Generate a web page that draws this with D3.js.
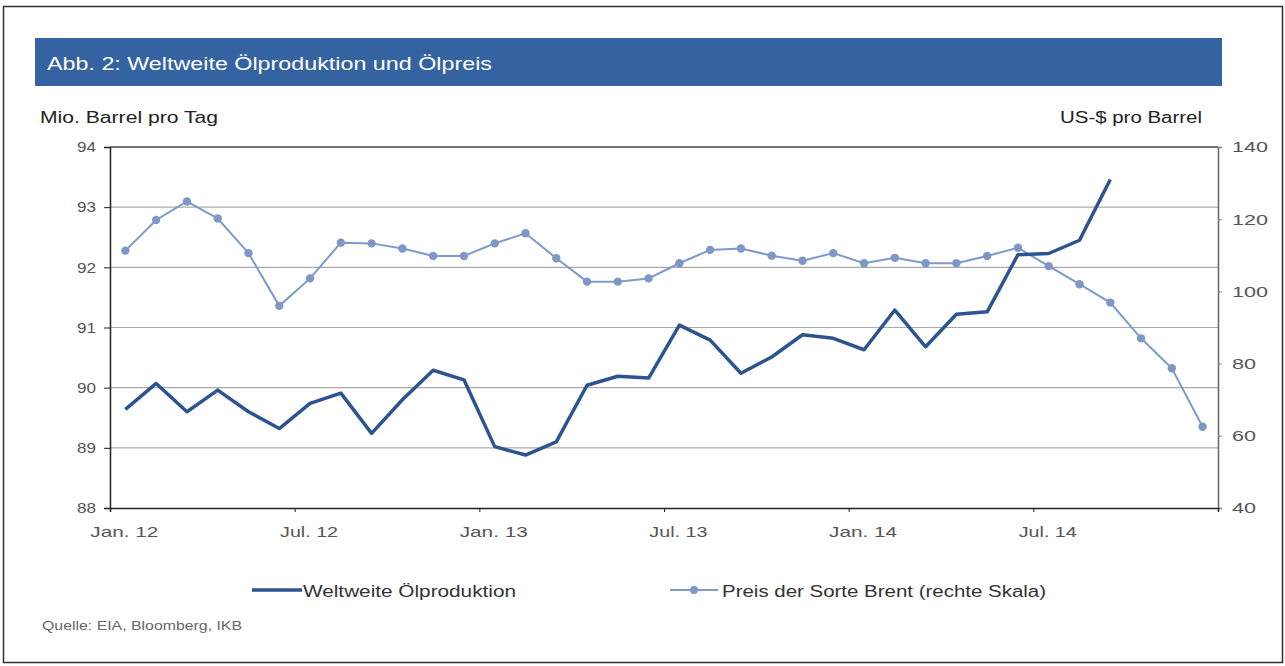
<!DOCTYPE html>
<html><head><meta charset="utf-8">
<script src="https://cdn.jsdelivr.net/npm/d3@7"></script>
<style>body{margin:0;background:#fff;}svg{display:block;font-family:"Liberation Sans",Arial,sans-serif;}</style>
</head><body>
<script>
const months = ["Jan. 12","Feb. 12","Mär. 12","Apr. 12","Mai. 12","Jun. 12","Jul. 12","Aug. 12","Sep. 12","Okt. 12","Nov. 12","Dez. 12",
"Jan. 13","Feb. 13","Mär. 13","Apr. 13","Mai. 13","Jun. 13","Jul. 13","Aug. 13","Sep. 13","Okt. 13","Nov. 13","Dez. 13",
"Jan. 14","Feb. 14","Mär. 14","Apr. 14","Mai. 14","Jun. 14","Jul. 14","Aug. 14","Sep. 14","Okt. 14","Nov. 14","Dez. 14"];
const production = [89.64,90.07,89.60,89.96,89.60,89.32,89.74,89.91,89.24,89.80,90.29,90.13,
89.02,88.88,89.10,90.04,90.19,90.16,91.04,90.79,90.24,90.51,90.88,90.82,
90.63,91.29,90.68,91.22,91.26,92.21,92.23,92.45,93.46];
const brent = [111.3,119.8,124.9,120.2,110.6,96.0,103.6,113.5,113.3,111.9,109.8,109.8,
113.3,116.1,109.2,102.7,102.7,103.6,107.8,111.5,111.9,109.9,108.5,110.6,
107.8,109.3,107.8,107.8,109.8,112.1,107.0,102.0,96.9,87.0,78.7,62.5];
const xTickLabels = ["Jan. 12","Jul. 12","Jan. 13","Jul. 13","Jan. 14","Jul. 14"];
const leftTicks = [88,89,90,91,92,93,94];
const rightTicks = [40,60,80,100,120,140];

const W=1285,H=666;
const svg=d3.select("body").append("svg").attr("width",W).attr("height",H);
svg.append("rect").attr("x",3.5).attr("y",6.5).attr("width",1279).attr("height",656).attr("fill","#fff").attr("stroke","#333").attr("stroke-width",1.5);
svg.append("rect").attr("x",35).attr("y",38).attr("width",1187).attr("height",48).attr("fill","#3563a1");

function txt(x,y,s,size,len,fill,anchor){
  const t=svg.append("text").attr("x",x).attr("y",y).attr("font-size",size).attr("fill",fill||"#333").text(s);
  if(anchor) t.attr("text-anchor",anchor);
  if(len) t.attr("textLength",len).attr("lengthAdjust","spacingAndGlyphs");
  return t;
}
txt(47,70,"Abb. 2: Weltweite Ölproduktion und Ölpreis",18,445,"#fff");
txt(40,123,"Mio. Barrel pro Tag",16,178,"#222");
txt(1202,123,"US-$ pro Barrel",16,142,"#222","end");

const L=110,R=1218,T=147,B=508;
const x=d3.scaleLinear().domain([0,36]).range([L,R]);
const yL=d3.scaleLinear().domain([88,94]).range([B,T]);
const yR=d3.scaleLinear().domain([40,140]).range([B,T]);

// gridlines
svg.append("g").selectAll("line").data(leftTicks.filter(d=>d>88&&d<94)).join("line")
 .attr("x1",L).attr("x2",R).attr("y1",d=>yL(d)).attr("y2",d=>yL(d)).attr("stroke","#aaa").attr("stroke-width",1.2);
svg.append("line").attr("x1",L).attr("x2",R).attr("y1",T).attr("y2",T).attr("stroke","#444").attr("stroke-width",1.5);

// axes
const gl=svg.append("g").attr("transform",`translate(${L},0)`).call(d3.axisLeft(yL).tickValues(leftTicks).tickFormat(d3.format("d")).tickSize(6).tickPadding(8));
const gr=svg.append("g").attr("transform",`translate(${R},0)`).call(d3.axisRight(yR).tickValues(rightTicks).tickFormat(d3.format("d")).tickSize(4).tickPadding(10));
const tickIdx=[0,6,12,18,24,30];
const gb=svg.append("g").attr("transform",`translate(0,${B})`).call(d3.axisBottom(x).tickValues([0,6,12,18,24,30,36]).tickSize(4).tickFormat(()=>""));
[gl,gr,gb].forEach(g=>{g.select(".domain").attr("stroke","#222").attr("stroke-width",1.5);g.selectAll(".tick line").attr("stroke","#222");
 g.selectAll("text").attr("font-size",15).attr("fill","#555").attr("font-family","Liberation Sans, Arial, sans-serif");});
gl.selectAll("text").attr("textLength",19).attr("lengthAdjust","spacingAndGlyphs");
gr.selectAll("text").attr("textLength",d=>d>=100?36:24).attr("lengthAdjust","spacingAndGlyphs");
gr.select(".domain").attr("stroke","#666");
gr.selectAll(".tick line").attr("stroke","#888");
svg.append("g").selectAll("text").data(tickIdx).join("text")
 .attr("x",(d)=>x(d+0.5)-1).attr("y",B+29).attr("text-anchor","middle").attr("font-size",15).attr("fill","#555")
 .attr("textLength",(d,i)=>xTickLabels[i].startsWith("Jul")?58:68).attr("lengthAdjust","spacingAndGlyphs")
 .text((d,i)=>xTickLabels[i]);

// brent line
const lineR=d3.line().x((d,i)=>x(i+0.5)).y(d=>yR(d));
svg.append("path").datum(brent).attr("d",lineR).attr("fill","none").attr("stroke","#7d9acb").attr("stroke-width",2);
svg.append("g").selectAll("circle").data(brent).join("circle").attr("cx",(d,i)=>x(i+0.5)).attr("cy",d=>yR(d)).attr("r",4.2).attr("fill","#7f97c6");

// production line
const lineL=d3.line().x((d,i)=>x(i+0.5)).y(d=>yL(d));
svg.append("path").datum(production).attr("d",lineL).attr("fill","none").attr("stroke","#2b5490").attr("stroke-width",3.5).attr("stroke-linejoin","round");

// legend
svg.append("line").attr("x1",252).attr("x2",302).attr("y1",590).attr("y2",590).attr("stroke","#2b5490").attr("stroke-width",3.5);
txt(303,597,"Weltweite Ölproduktion",16,213,"#333");
svg.append("line").attr("x1",670).attr("x2",718).attr("y1",590).attr("y2",590).attr("stroke","#7d9acb").attr("stroke-width",2);
svg.append("circle").attr("cx",694).attr("cy",590).attr("r",4).attr("fill","#7f97c6");
txt(722,597,"Preis der Sorte Brent (rechte Skala)",16,324,"#333");
txt(42,630,"Quelle: EIA, Bloomberg, IKB",12.5,200,"#666");
</script>
</body></html>
